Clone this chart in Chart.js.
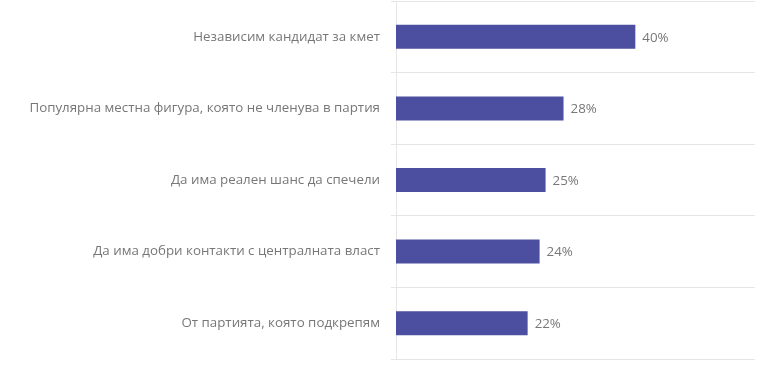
<!DOCTYPE html>
<html>
<head>
<meta charset="utf-8">
<script src="https://cdn.jsdelivr.net/npm/chart.js@4"></script>
<style>
    html, body { margin: 0; padding: 0; background: #fff; }
    #wrap { width: 768px; height: 372px; }
</style>
</head>
<body>
<div id="wrap"><canvas id="chart-kandidat"></canvas></div>
<script>
const categories = [
    "Независим кандидат за кмет",
    "Популярна местна фигура, която не членува в партия",
    "Да има реален шанс да спечели",
    "Да има добри контакти с централната власт",
    "От партията, която подкрепям",
];
const values = [40, 28, 25, 24, 22];

const textColor = "#777777";
const barColor = "#4c4f9f";

// draws the "40%" labels right after each bar
const valueLabels = {
    id: "valueLabels",
    afterDatasetsDraw(chart) {
        const ctx = chart.ctx;
        const meta = chart.getDatasetMeta(0);
        ctx.save();
        ctx.font = "13.33px 'Open Sans'";
        ctx.fillStyle = textColor;
        ctx.textAlign = "left";
        ctx.textBaseline = "middle";
        meta.data.forEach((bar, i) => {
            ctx.fillText(values[i] + "%", bar.x + 7, bar.y + 1);
        });
        ctx.restore();
    }
};

Chart.defaults.font.family = "'Open Sans'";
Chart.defaults.font.size = 13.33;
Chart.defaults.color = textColor;

new Chart(document.getElementById("chart-kandidat").getContext("2d"), {
    type: "bar",
    data: {
        labels: categories,
        datasets: [
            {
                data: values,
                backgroundColor: barColor,
                borderWidth: 0,
                barPercentage: 0.67,
                categoryPercentage: 0.5,
            },
        ],
    },
    options: {
        indexAxis: "y",
        responsive: true,
        maintainAspectRatio: false,
        animation: false,
        layout: {
            padding: { top: 1, bottom: 13, right: 13, left: 0 },
        },
        scales: {
            x: {
                display: false,
                min: 0,
                max: 60,
            },
            y: {
                afterFit: (scale) => {
                    scale.width = 396;
                    scale.paddingTop = 0;
                    scale.paddingBottom = 0;
                },
                grid: {
                    offset: true,
                    color: "#e6e6e6",
                    tickLength: 5,
                },
                border: { color: "#e6e6e6" },
                ticks: { color: textColor, padding: 11 },
            },
        },
        plugins: {
            legend: { display: false },
            tooltip: { enabled: false },
        },
    },
    plugins: [valueLabels],
});
</script>
</body>
</html>
